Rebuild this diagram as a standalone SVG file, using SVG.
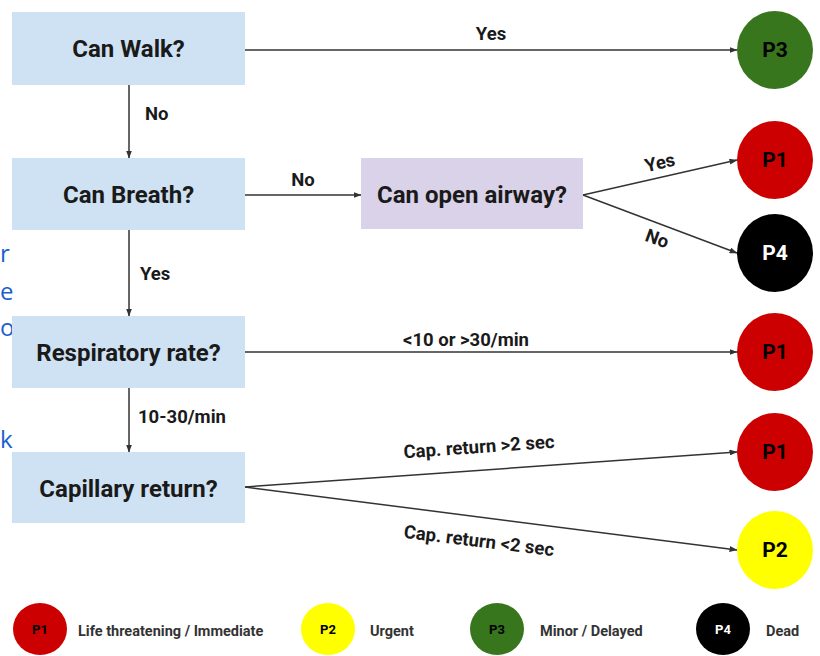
<svg xmlns="http://www.w3.org/2000/svg" width="820" height="656" viewBox="0 0 820 656">
<defs>
<marker id="ah" markerWidth="8" markerHeight="6" refX="7.5" refY="3" orient="auto" markerUnits="userSpaceOnUse">
<path d="M0,0 L8,3 L0,6 z" fill="#333"/>
</marker>
<style>
.box{fill:#cfe2f3}
.box2{fill:#d9d2e9}
.bt{font-family:Roboto,"Liberation Sans",sans-serif;font-weight:700;font-size:24px;fill:#1a1a1a;text-anchor:middle}
.el{font-family:Roboto,"Liberation Sans",sans-serif;font-weight:700;font-size:18.5px;fill:#1a1a1a}
.ct{font-family:Roboto,"Liberation Sans",sans-serif;font-weight:700;font-size:21px;text-anchor:middle}
.lt{font-family:Roboto,"Liberation Sans",sans-serif;font-weight:700;font-size:13px;text-anchor:middle}
.ll{font-family:Roboto,"Liberation Sans",sans-serif;font-weight:700;font-size:14.5px;fill:#333}
.cn line{stroke:#333;stroke-width:1.5;marker-end:url(#ah)}
.frag{font-family:"Open Sans",sans-serif;font-size:24px;fill:#1a5fd0}
</style>
</defs>
<rect width="820" height="656" fill="#fff"/>

<g id="bg-fragments">
<text class="frag" x="0" y="262">r</text>
<text class="frag" x="0" y="300">e</text>
<text class="frag" x="0" y="336">o</text>
<text class="frag" x="0" y="448">k</text>
</g>

<g id="connectors" class="cn">
<line x1="245" y1="50" x2="737" y2="50"/>
<line x1="129" y1="85" x2="129" y2="158"/>
<line x1="245" y1="195" x2="361" y2="195"/>
<line x1="583" y1="195" x2="737" y2="160"/>
<line x1="583" y1="195" x2="737" y2="253"/>
<line x1="129" y1="230" x2="129" y2="316"/>
<line x1="245" y1="352" x2="737" y2="352"/>
<line x1="129" y1="388" x2="129" y2="452"/>
<line x1="245" y1="487" x2="737" y2="452"/>
<line x1="245" y1="487" x2="737" y2="550"/>
</g>

<g id="edge-labels">
<text class="el" x="491" y="40" text-anchor="middle">Yes</text>
<text class="el" x="145" y="120">No</text>
<text class="el" x="303" y="186" text-anchor="middle">No</text>
<text class="el" x="660" y="169" text-anchor="middle" transform="rotate(-13 660 163)">Yes</text>
<text class="el" x="657" y="245" text-anchor="middle" transform="rotate(20 657 239)">No</text>
<text class="el" x="140" y="280">Yes</text>
<text class="el" x="466" y="346" text-anchor="middle">&lt;10 or &gt;30/min</text>
<text class="el" x="138" y="423">10-30/min</text>
<text class="el" x="479" y="453" text-anchor="middle" transform="rotate(-4 479 447)">Cap. return &gt;2 sec</text>
<text class="el" x="479" y="547" text-anchor="middle" transform="rotate(7 479 541)">Cap. return &lt;2 sec</text>
</g>

<g id="can-walk"><rect class="box" x="12" y="12" width="233" height="73"/><text class="bt" x="128.5" y="57">Can Walk?</text></g>
<g id="can-breath"><rect class="box" x="12" y="158" width="233" height="72"/><text class="bt" x="128.5" y="203">Can Breath?</text></g>
<g id="can-open-airway"><rect class="box2" x="361" y="158" width="222" height="71"/><text class="bt" x="472" y="203">Can open airway?</text></g>
<g id="respiratory-rate"><rect class="box" x="12" y="316" width="233" height="72"/><text class="bt" x="128.5" y="361">Respiratory rate?</text></g>
<g id="capillary-return"><rect class="box" x="12" y="452" width="233" height="71"/><text class="bt" x="128.5" y="497">Capillary return?</text></g>

<g id="p3-walk"><ellipse cx="775" cy="50" rx="38" ry="39" fill="#38761d"/><text class="ct" x="775" y="57" fill="#000">P3</text></g>
<g id="p1-airway"><ellipse cx="775" cy="160" rx="38" ry="39" fill="#cc0000"/><text class="ct" x="775" y="167" fill="#000">P1</text></g>
<g id="p4-airway"><ellipse cx="775" cy="253" rx="38" ry="39" fill="#000"/><text class="ct" x="775" y="260" fill="#fff">P4</text></g>
<g id="p1-resp"><ellipse cx="775" cy="352" rx="38" ry="39" fill="#cc0000"/><text class="ct" x="775" y="359" fill="#000">P1</text></g>
<g id="p1-cap"><ellipse cx="775" cy="452" rx="38" ry="39" fill="#cc0000"/><text class="ct" x="775" y="459" fill="#000">P1</text></g>
<g id="p2-cap"><ellipse cx="775" cy="550" rx="38" ry="39" fill="#ffff00"/><text class="ct" x="775" y="557" fill="#000">P2</text></g>

<g id="legend">
<g id="legend-p1"><ellipse cx="40" cy="629" rx="27" ry="26" fill="#cc0000"/><text class="lt" x="40" y="634" fill="#000">P1</text><text class="ll" x="78" y="636">Life threatening / Immediate</text></g>
<g id="legend-p2"><ellipse cx="328" cy="629" rx="27" ry="26" fill="#ffff00"/><text class="lt" x="328" y="634" fill="#000">P2</text><text class="ll" x="370" y="636">Urgent</text></g>
<g id="legend-p3"><ellipse cx="497" cy="629" rx="27" ry="26" fill="#38761d"/><text class="lt" x="497" y="634" fill="#000">P3</text><text class="ll" x="540" y="636">Minor / Delayed</text></g>
<g id="legend-p4"><ellipse cx="723" cy="629" rx="27" ry="26" fill="#000"/><text class="lt" x="723" y="634" fill="#fff">P4</text><text class="ll" x="766" y="636">Dead</text></g>
</g>
</svg>
